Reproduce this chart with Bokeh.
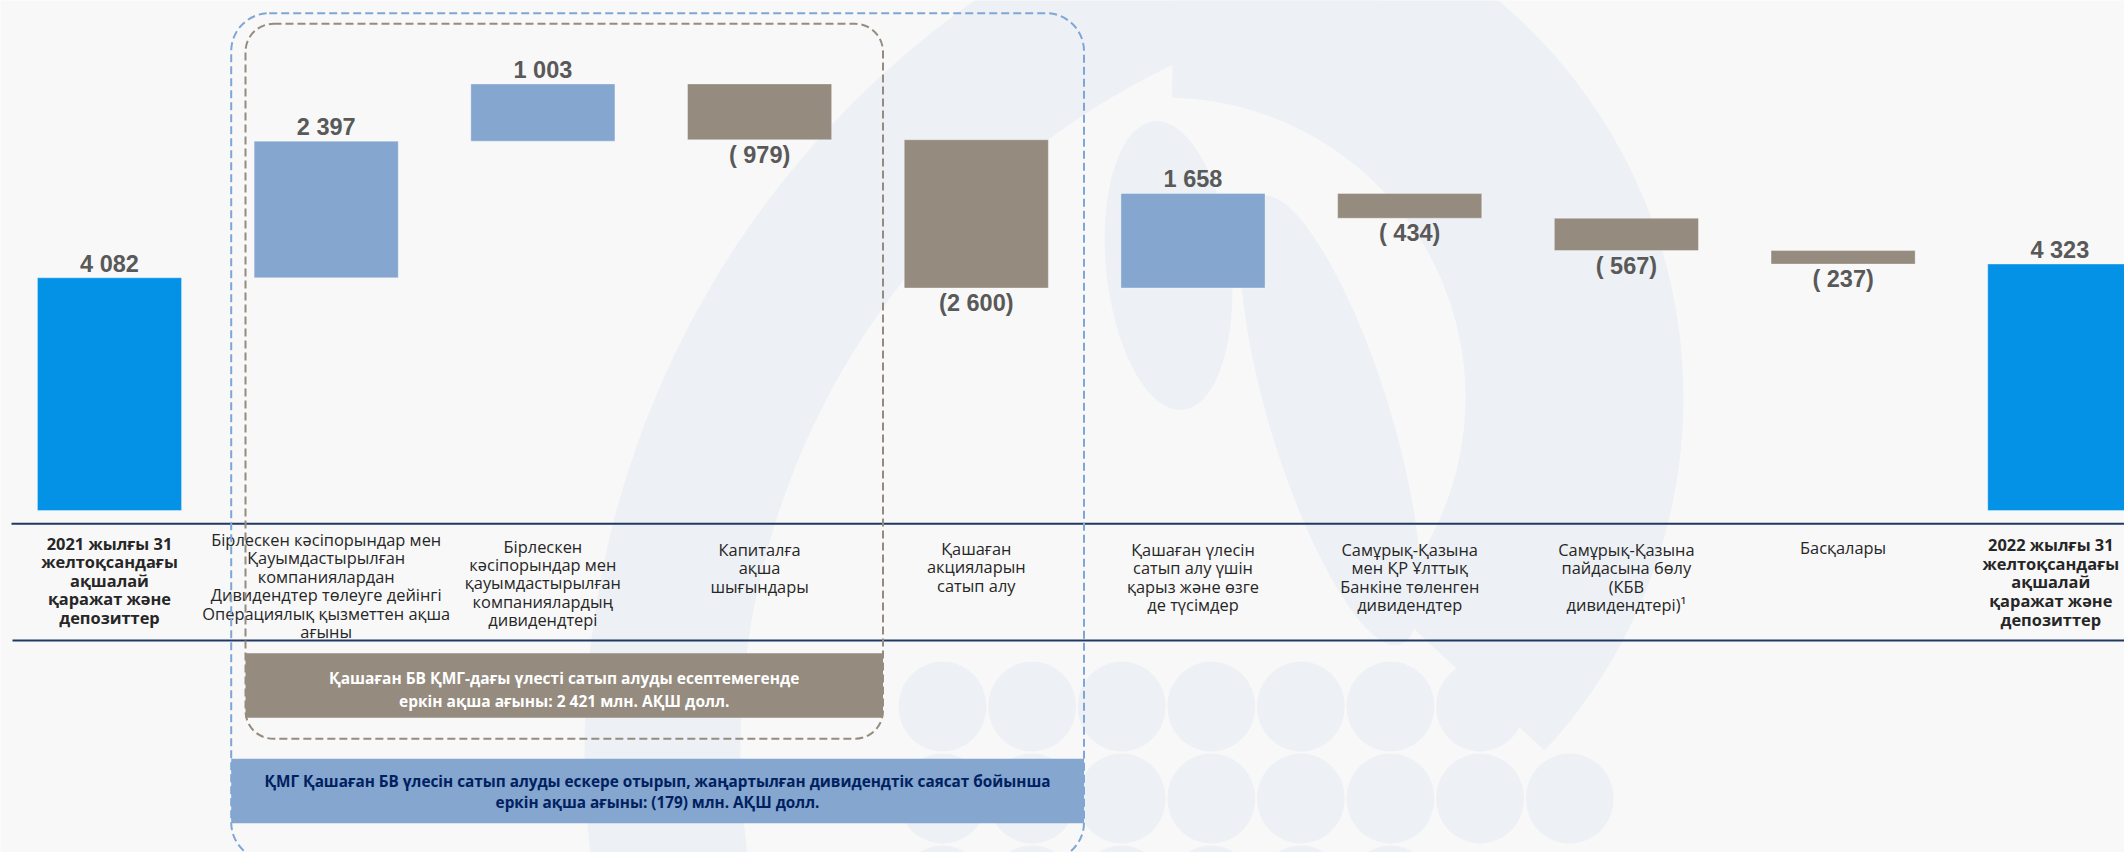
import numpy as np
from bokeh.plotting import figure
from bokeh.models import Range1d, BoxAnnotation, ColumnDataSource
from bokeh.core.properties import value
from bokeh.embed import file_html
from bokeh.resources import INLINE

# ---------------- data ----------------
categories = [
    "2021 жылғы 31\nжелтоқсандағы\nақшалай\nқаражат және\nдепозиттер",
    "Бірлескен кәсіпорындар мен\nҚауымдастырылған\nкомпаниялардан\nДивидендтер төлеуге дейінгі\nОперациялық қызметтен ақша\nағыны",
    "Бірлескен\nкәсіпорындар мен\nқауымдастырылған\nкомпаниялардың\nдивидендтері",
    "Капиталға\nақша\nшығындары",
    "Қашаған\nакцияларын\nсатып алу",
    "Қашаған үлесін\nсатып алу үшін\nқарыз және өзге\nде түсімдер",
    "Самұрық-Қазына\nмен ҚР Ұлттық\nБанкіне төленген\nдивидендтер",
    "Самұрық-Қазына\nпайдасына бөлу\n(КБВ\nдивидендтері)¹",
    "Басқалары",
    "2022 жылғы 31\nжелтоқсандағы\nақшалай\nқаражат және\nдепозиттер",
]
amounts = [4082, 2397, 1003, -979, -2600, 1658, -434, -567, -237, 4323]
is_total = [True, False, False, False, False, False, False, False, False, True]
value_labels = ["4 082", "2 397", "1 003", "( 979)", "(2 600)", "1 658",
                "( 434)", "( 567)", "( 237)", "4 323"]
note_grey = "Қашаған БВ ҚМГ-дағы үлесті сатып алуды есептемегенде\nеркін ақша ағыны: 2 421 млн. АҚШ долл."
note_blue = ("ҚМГ Қашаған БВ үлесін сатып алуды ескере отырып, жаңартылған дивидендтік саясат бойынша\n"
             "еркін ақша ағыны: (179) млн. АҚШ долл.")

# ---------------- layout (page pixels) ----------------
W, H = 2124, 852
PAGE_OFF = 0
X0_PX, STEP_PX = 109.0, 216.7      # centre of first category, spacing
BASE_PX, PPU = 510.0, 0.05701       # page y of zero, pixels per unit
BAR_W = 0.665

x_start = (PAGE_OFF - X0_PX) / STEP_PX
x_end = x_start + W / STEP_PX
y_end = (BASE_PX - PAGE_OFF) / PPU
y_start = y_end - H / PPU

def dx(px):
    return (px - X0_PX) / STEP_PX

def dy(py):
    return (BASE_PX - py) / PPU

C_TOTAL = "#0392E6"
C_POS = "#84A6CF"
C_NEG = "#958B7E"
C_BG = "#F8F8F8"
C_WM = "#EDF1F5"
C_NAVY = "#1F3864"

p = figure(width=W, height=H, x_range=Range1d(x_start, x_end), y_range=Range1d(y_start, y_end),
           output_backend="svg", toolbar_location=None, min_border=0)
p.axis.visible = False
p.grid.visible = False
p.outline_line_color = None
p.background_fill_color = C_BG
p.border_fill_color = C_BG

# ---------------- watermark (decorative logo) ----------------
wm = dict(inner_radius_units="screen", outer_radius_units="screen", fill_color=C_WM, line_color=None)
# left crescent
p.annular_wedge(x=[dx(1500)], y=[dy(750)], inner_radius=[760], outer_radius=[916],
                start_angle=[1.72], end_angle=[3.5], **wm)
# right crescent
p.annular_wedge(x=[dx(1165)], y=[dy(397)], inner_radius=[300], outer_radius=[518],
                start_angle=[-0.75], end_angle=[1.55], **wm)
# inner drop and middle lobe
p.ellipse(x=[dx(1168)], y=[dy(265)], width=[125], height=[290], angle=[0.1],
          width_units="screen", height_units="screen", fill_color=C_WM, line_color=None)
p.ellipse(x=[dx(1330)], y=[dy(420)], width=[120], height=[470], angle=[0.3],
          width_units="screen", height_units="screen", fill_color=C_WM, line_color=None)
circ_x, circ_y = [], []
for ry, n in [(706, 7), (798, 8), (890, 6)]:
    for k in range(n):
        circ_x.append(dx(942 + 89.6 * k))
        circ_y.append(dy(ry))
p.ellipse(x=circ_x, y=circ_y, width=88, height=90, width_units="screen", height_units="screen",
          fill_color=C_WM, line_color=None)

# ---------------- waterfall bars ----------------
xs, bottoms, tops, colors, lab_y = [], [], [], [], []
running = 0
for i, (v, tot) in enumerate(zip(amounts, is_total)):
    if tot:
        b, t = 0, v
        running = v
        col = C_TOTAL
    else:
        new = running + v
        b, t = min(running, new), max(running, new)
        running = new
        col = C_POS if v > 0 else C_NEG
    xs.append(i)
    bottoms.append(b)
    tops.append(t)
    colors.append(col)
    lab_y.append(t + 14 / PPU if v > 0 else b - 15 / PPU)

src = ColumnDataSource(dict(x=xs, bottom=bottoms, top=tops, color=colors,
                            ly=lab_y, lab=value_labels))
p.vbar(x="x", bottom="bottom", top="top", width=BAR_W, fill_color="color",
       line_color="white", line_alpha=0.35, line_width=1, source=src)
p.text(x="x", y="ly", text="lab", source=src, text_align="center", text_baseline="middle",
       text_font=value("Liberation Sans"), text_font_style="bold", text_font_size="23.5px",
       text_color="#595959")

# ---------------- axis lines ----------------
p.segment(x0=[dx(11), dx(12)], y0=[dy(523.3), dy(640)], x1=[x_end, x_end], y1=[dy(523.3), dy(640)],
          line_color=C_NAVY, line_width=2)

# ---------------- category labels ----------------
label_top_px = [531, 527.5, 534, 537.5, 536.5, 537.5, 537.5, 537.5, 535.5, 532.5]
label_shift_px = [0, 0, 0, 0, 0, 0, 0, 0, 0, -9]   # keep last label inside the page
normal_idx = [i for i in range(len(categories)) if not is_total[i]]
bold_idx = [i for i in range(len(categories)) if is_total[i]]
p.text(x=[i for i in normal_idx], y=[dy(label_top_px[i]) for i in normal_idx],
       text=[categories[i] for i in normal_idx], text_align="center", text_baseline="top",
       text_font=value("Open Sans"), text_font_size="16.4px", text_line_height=0.80,
       text_color="#262626")
p.text(x=[i + label_shift_px[i] / STEP_PX for i in bold_idx], y=[dy(label_top_px[i]) for i in bold_idx],
       text=[categories[i] for i in bold_idx], text_align="center", text_baseline="top",
       text_font=value("Open Sans"), text_font_style="bold", text_font_size="16.4px",
       text_line_height=0.81, text_color="#262626")

# ---------------- notes ----------------
p.quad(left=[dx(245)], right=[dx(882.5)], top=[dy(652.7)], bottom=[dy(717.3)],
       fill_color=C_NEG, line_color=None)
p.text(x=[dx(563.7)], y=[dy(688.8)], text=[note_grey], text_align="center", text_baseline="middle",
       text_font=value("Open Sans"), text_font_style="bold", text_font_size="15.5px",
       text_line_height=1.03, text_color="white")
p.quad(left=[dx(230.7)], right=[dx(1083.5)], top=[dy(758.3)], bottom=[dy(822.7)],
       fill_color=C_POS, line_color=None)
p.text(x=[dx(657)], y=[dy(790.8)], text=[note_blue], text_align="center", text_baseline="middle",
       text_font=value("Open Sans"), text_font_style="bold", text_font_size="15.3px",
       text_line_height=1.05, text_color="#002060")

# ---------------- dashed group frames ----------------
p.add_layout(BoxAnnotation(left=dx(230.7), right=dx(1083.5), top=dy(12.7), bottom=dy(860),
                           fill_alpha=0, line_color="#7FA6D4", line_alpha=1, line_width=2,
                           line_dash="8 4", border_radius=38))
p.add_layout(BoxAnnotation(left=dx(245), right=dx(882.5), top=dy(23.3), bottom=dy(738.3),
                           fill_alpha=0, line_color="#958B7E", line_alpha=1, line_width=2,
                           line_dash="8 4", border_radius=28))

open("out.html", "w").write(file_html(p, INLINE))
